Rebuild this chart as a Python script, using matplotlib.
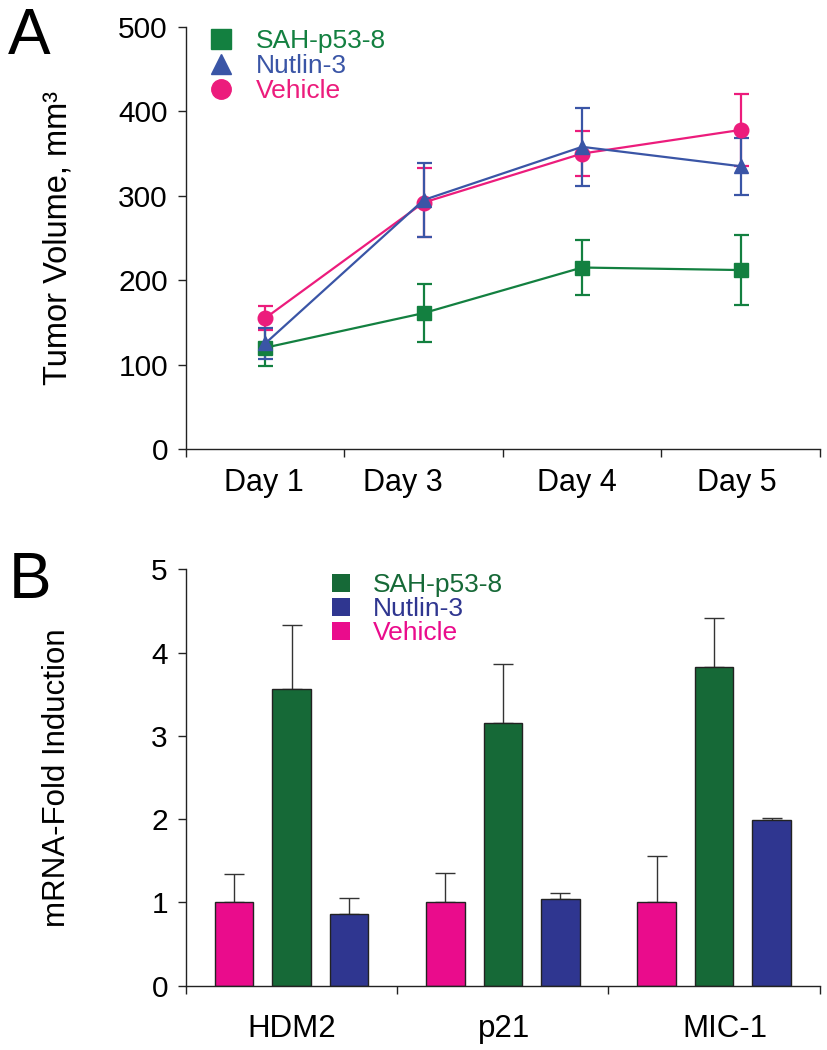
import matplotlib
matplotlib.use("Agg")
import matplotlib.pyplot as plt
from matplotlib.lines import Line2D
from matplotlib.patches import Patch
import numpy as np

plt.rcParams['font.family'] = ['Liberation Sans', 'DejaVu Sans']

# panel A: tumor volume
days = ['Day 1', 'Day 3', 'Day 4', 'Day 5']
sah_vol = [120, 161, 215, 212]
sah_err = [22, 34, 33, 41]
nut_vol = [125, 295, 358, 335]
nut_err = [18, 44, 46, 34]
veh_vol = [155, 292, 350, 378]
veh_err = [14, 41, 27, 43]

# panel B: mRNA fold induction
genes = ['HDM2', 'p21', 'MIC-1']
veh_fold = [1.0, 1.0, 1.0]
veh_fold_err = [0.34, 0.35, 0.56]
sah_fold = [3.56, 3.16, 3.83]
sah_fold_err = [0.77, 0.70, 0.59]
nut_fold = [0.86, 1.04, 1.99]
nut_fold_err = [0.19, 0.07, 0.02]

green_a, blue_a, pink_a = '#138040', '#3a55a6', '#ec1c7c'
green_b, blue_b, pink_b = '#166937', '#2f3690', '#ea0c8c'
spine_col = '#222222'

fig = plt.figure(figsize=(8.28, 10.5), dpi=100)
axA = fig.add_axes([0.2246, 0.5724, 0.7654, 0.4019])
axB = fig.add_axes([0.2246, 0.0612, 0.7654, 0.3966])

for ax in (axA, axB):
    for s in ('top', 'right'):
        ax.spines[s].set_visible(False)
    for s in ('left', 'bottom'):
        ax.spines[s].set_color(spine_col)
        ax.spines[s].set_linewidth(1.0)
    ax.tick_params(axis='both', which='major', direction='out', length=6,
                   width=1.0, color=spine_col, labelsize=21.5, pad=7)

# ---- panel A
x = np.arange(len(days)) + 0.5
series = [(sah_vol, sah_err, green_a, 's'),
          (veh_vol, veh_err, pink_a, 'o'),
          (nut_vol, nut_err, blue_a, '^')]
for vals, err, col, mk in series:
    axA.errorbar(x, vals, yerr=err, color=col, marker=mk, markersize=10.5,
                 linewidth=1.6, elinewidth=1.6, capsize=5.4, capthick=1.6)
axA.set_xlim(0, len(days))
axA.set_ylim(0, 500)
axA.set_yticks([0, 100, 200, 300, 400, 500])
axA.set_xticks(np.arange(len(days) + 1))
axA.set_xticklabels([])
lab_off = [-0.008, -0.131, -0.033, -0.024]
axA.set_xticks(x + np.array(lab_off), minor=True)
axA.set_xticklabels(days, minor=True)
axA.tick_params(axis='x', which='minor', length=0, labelsize=22, pad=14)
axA.set_ylabel('Tumor Volume, mm³', fontsize=23.5)
axA.yaxis.set_label_coords(-0.178, 0.5)

handles_a = [Line2D([], [], color=c, marker=m, linestyle='none', markersize=14)
             for c, m in [(green_a, 's'), (blue_a, '^'), (pink_a, 'o')]]
legA = axA.legend(handles_a, ['SAH-p53-8', 'Nutlin-3', 'Vehicle'],
                  loc='upper left', bbox_to_anchor=(0.035, 0.995), frameon=False,
                  fontsize=19, labelspacing=0.04, handlelength=1.0,
                  handletextpad=0.8, borderpad=0, borderaxespad=0)
for t, c in zip(legA.get_texts(), [green_a, blue_a, pink_a]):
    t.set_color(c)

# ---- panel B
g = np.arange(len(genes)) + 0.5
bw = 0.182
off = 0.2725
for vals, err, col, dx in [(veh_fold, veh_fold_err, pink_b, -off),
                           (sah_fold, sah_fold_err, green_b, 0),
                           (nut_fold, nut_fold_err, blue_b, off)]:
    axB.bar(g + dx, vals, width=bw, color=col, edgecolor=spine_col,
            linewidth=1.0, zorder=2)
    axB.errorbar(g + dx, vals, yerr=[np.zeros(len(err)), err], fmt='none',
                 ecolor='#333333', elinewidth=1.0, capsize=7.2, capthick=1.0,
                 zorder=1)
axB.set_xlim(0, len(genes))
axB.set_ylim(0, 5)
axB.set_yticks(range(6))
axB.set_xticks(np.arange(len(genes) + 1))
axB.set_xticklabels([])
axB.set_xticks(g + np.array([0.0, 0.008, 0.05]), minor=True)
axB.set_xticklabels(genes, minor=True)
axB.tick_params(axis='x', which='minor', length=0, labelsize=22.5, pad=20)
axB.set_ylabel('mRNA-Fold Induction', fontsize=22.5)
axB.yaxis.set_label_coords(-0.18, 0.5)

handles_b = [Patch(facecolor=c, edgecolor='none') for c in (green_b, blue_b, pink_b)]
legB = axB.legend(handles_b, ['SAH-p53-8', 'Nutlin-3', 'Vehicle'],
                  loc='upper left', bbox_to_anchor=(0.23, 0.99), frameon=False,
                  fontsize=19, labelspacing=0.0, handlelength=0.7,
                  handleheight=0.7, handletextpad=0.85, borderpad=0,
                  borderaxespad=0)
for t, c in zip(legB.get_texts(), [green_b, blue_b, pink_b]):
    t.set_color(c)

fig.text(0.009, 1 - 54 / 1050, 'A', fontsize=46, va='baseline')
fig.text(0.011, 1 - 598 / 1050, 'B', fontsize=46, va='baseline')

fig.savefig('out.png', dpi=100)
